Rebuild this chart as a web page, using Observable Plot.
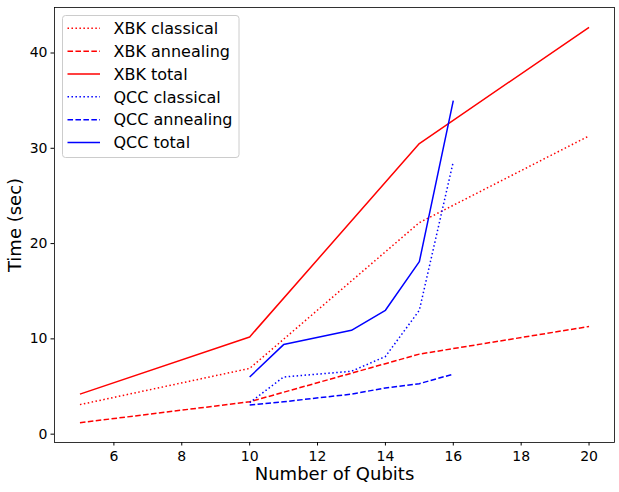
<!DOCTYPE html>
<html>
<head>
<meta charset="utf-8">
<script src="https://cdn.jsdelivr.net/npm/d3@7"></script>
<script src="https://cdn.jsdelivr.net/npm/@observablehq/plot@0.6"></script>
<style>
  html, body { margin: 0; padding: 0; background: #fff; }
  #chart { width: 619px; height: 492px; }
</style>
</head>
<body>
<div id="chart"></div>
<script>
// ---- data ----
const qubitsXBK = [5, 10, 15, 20];
const xbkClassical = [3.1, 6.9, 22.2, 31.3];
const xbkAnnealing = [1.2, 3.4, 8.4, 11.3];
const xbkTotal = [4.2, 10.2, 30.5, 42.7];

const qubitsQCC = [10, 11, 13, 14, 15, 16];
const qccClassical = [3.3, 6.0, 6.6, 8.15, 13.0, 28.6];
const qccAnnealing = [3.05, 3.4, 4.2, 4.85, 5.3, 6.3];
const qccTotal = [6.0, 9.4, 10.9, 13.0, 18.1, 35.0];

const seriesNames = ["XBK classical", "XBK annealing", "XBK total", "QCC classical", "QCC annealing", "QCC total"];
const seriesColors = ["#ff0000", "#ff0000", "#ff0000", "#0000ff", "#0000ff", "#0000ff"];
const seriesDash = ["1.5,2.475", "5.55,2.4", null, "1.5,2.475", "5.55,2.4", null];

const xTicks = [6, 8, 10, 12, 14, 16, 18, 20];
const yTicks = [0, 10, 20, 30, 40];
const xLabel = "Number of Qubits";
const yLabel = "Time (sec)";

// ---- build table ----
const seriesX = [qubitsXBK, qubitsXBK, qubitsXBK, qubitsQCC, qubitsQCC, qubitsQCC];
const seriesY = [xbkClassical, xbkAnnealing, xbkTotal, qccClassical, qccAnnealing, qccTotal];
const tables = seriesNames.map((name, i) => seriesX[i].map((x, j) => ({series: name, x, y: seriesY[i][j]})));

const lineMarks = tables.map((rows, i) => Plot.line(rows, {
  x: "x", y: "y",
  stroke: seriesColors[i],
  strokeWidth: 1.5,
  strokeDasharray: seriesDash[i] || undefined,
  strokeLinecap: "butt",
  strokeLinejoin: "round"
}));

const chart = Plot.plot({
  width: 619,
  height: 492,
  marginLeft: 54,
  marginRight: 5,
  marginTop: 7,
  marginBottom: 50,
  style: {fontFamily: "DejaVu Sans", background: "#fff", color: "#000"},
  x: {domain: [4.25, 20.75]},
  y: {domain: [-0.875, 44.775]},
  marks: [
    ...lineMarks,
    Plot.frame({stroke: "#000", strokeWidth: 0.8}),
    Plot.axisX({ticks: xTicks, tickSize: 3.5, tickPadding: 5.5, fontSize: 14, label: null, tickFormat: d => String(d)}),
    Plot.axisY({ticks: yTicks, tickSize: 3.5, tickPadding: 3.5, fontSize: 14, label: null, tickFormat: d => String(d)}),
    Plot.text([xLabel], {frameAnchor: "bottom", lineAnchor: "middle", textAnchor: "middle", dy: 32, fontSize: 18, text: d => d, fill: "#000"}),
    Plot.text([yLabel], {frameAnchor: "left", lineAnchor: "middle", textAnchor: "middle", dx: -39, rotate: -90, fontSize: 18, text: d => d, fill: "#000"})
  ]
});

document.getElementById("chart").appendChild(chart);

// ---- legend ----
const svg = d3.select(chart);
const lg = svg.append("g").attr("font-family", "DejaVu Sans").attr("text-anchor", "start");
lg.append("rect")
  .attr("x", 62.5).attr("y", 15.5)
  .attr("width", 176.5).attr("height", 142)
  .attr("rx", 3).attr("ry", 3)
  .attr("fill", "#fff").attr("fill-opacity", 0.8)
  .attr("stroke", "#cccccc").attr("stroke-width", 1);
seriesNames.forEach((name, i) => {
  const y = 28.3 + i * 22.85;
  const ln = lg.append("line")
    .attr("x1", 67.5).attr("x2", 100)
    .attr("y1", y).attr("y2", y)
    .attr("stroke", seriesColors[i]).attr("stroke-width", 1.5);
  if (seriesDash[i]) ln.attr("stroke-dasharray", seriesDash[i]);
  lg.append("text")
    .attr("x", 113.5).attr("y", y)
    .attr("dy", "0.36em")
    .attr("text-anchor", "start")
    .attr("font-size", 16)
    .attr("fill", "#000")
    .text(name);
});
</script>
</body>
</html>
